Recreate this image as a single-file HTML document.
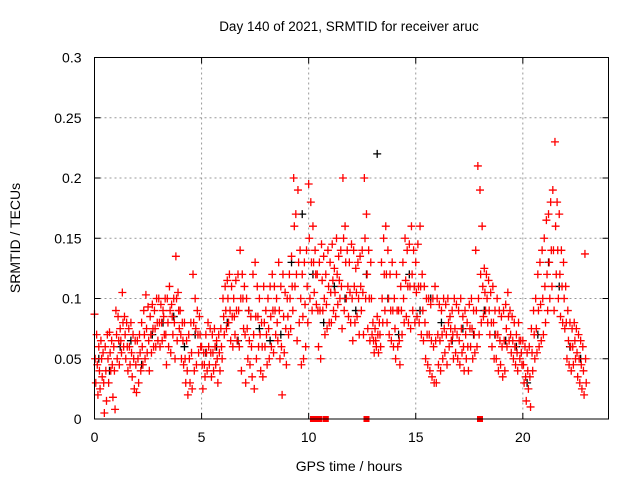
<!DOCTYPE html>
<html><head><meta charset="utf-8"><style>
body{margin:0;background:#fff;}
svg{display:block;font-family:"Liberation Sans",sans-serif;}
</style></head><body>
<svg id="chart" width="640" height="480" viewBox="0 0 640 480">
<text x="349" y="31" font-size="13.5" text-anchor="middle">Day 140 of 2021, SRMTID for receiver aruc</text>
<text transform="translate(20,238) rotate(-90)" font-size="14" text-anchor="middle">SRMTID / TECUs</text>
<text x="349" y="471" font-size="14" text-anchor="middle">GPS time / hours</text>
<g id="grid"></g>
<g id="ticks"></g>
<g id="marks"></g>
<rect x="94.5" y="57.5" width="514" height="361.5" fill="none" stroke="#000" stroke-width="1"/>
</svg>
<script>
const xTicks=[0,5,10,15,20];
const yTicks=[0,0.05,0.1,0.15,0.2,0.25,0.3];
const yTickLabels=["0","0.05","0.1","0.15","0.2","0.25","0.3"];
const redStart=0, redStep=0.1;
const redUpper=[.087,.07,.06,.065,.055,.06,.07,.072,.065,.06,
.09,.085,.075,.105,.085,.08,.075,.08,.07,.065,
.065,.07,.08,.09,.103,.093,.085,.095,.09,.1,
.1,.095,.09,.1,.1,.11,.095,.1,.135,.105,
.09,.08,.08,.065,.07,.08,.12,.1,.09,.085,
.06,.055,.07,.08,.075,.07,.075,.065,.07,.075,
.1,.11,.115,.12,.11,.1,.115,.12,.14,.12,
.11,.1,.09,.085,.12,.13,.11,.1,.08,.11,
.09,.1,.11,.12,.11,.1,.13,.11,.12,.105,
.1,.12,.135,.2,.17,.19,.14,.12,.13,.14,
.195,.18,.16,.14,.12,.13,.145,.135,.12,.14,
.13,.145,.125,.15,.135,.14,.2,.16,.14,.13,
.145,.14,.125,.13,.135,.14,.2,.17,.14,.13,
.08,.075,.085,.08,.13,.15,.16,.14,.12,.13,
.1,.12,.09,.11,.13,.15,.14,.145,.16,.14,
.13,.145,.16,.12,.11,.1,.1,.095,.1,.11,
.1,.095,.09,.1,.095,.1,.085,.09,.1,.095,
.09,.1,.085,.09,.08,.095,.1,.09,.14,.21,
.19,.16,.125,.12,.115,.105,.11,.09,.1,.09,
.085,.09,.095,.105,.09,.085,.08,.07,.08,.065,
.065,.06,.055,.06,.075,.09,.1,.12,.13,.14,
.15,.165,.17,.18,.19,.23,.18,.17,.14,.13,
.11,.09,.08,.075,.08,.075,.07,.065,.06,.137];
const redMid=[.05,.045,.04,.05,.03,.04,.05,.055,.045,.04,
.07,.065,.065,.08,.07,.06,.06,.055,.05,.045,
.05,.055,.06,.07,.075,.065,.07,.075,.075,.08,
.08,.08,.085,.07,.08,.09,.085,.08,.1,.09,
.07,.065,.05,.04,.05,.055,.08,.075,.07,.07,
.045,.045,.055,.06,.055,.055,.06,.05,.055,.06,
.085,.09,.1,.09,.085,.085,.09,.09,.1,.1,
.07,.075,.065,.06,.07,.085,.085,.07,.06,.08,
.07,.075,.085,.09,.09,.08,.09,.06,.085,.075,
.085,.1,.11,.16,.12,.13,.1,.085,.095,.11,
.15,.13,.13,.12,.09,.09,.115,.1,.095,.11,
.105,.115,.105,.12,.115,.11,.15,.13,.11,.105,
.1,.11,.105,.1,.11,.105,.15,.12,.1,.1,
.065,.065,.07,.07,.1,.12,.12,.1,.09,.09,
.075,.09,.065,.09,.1,.115,.11,.11,.12,.11,
.105,.11,.11,.09,.08,.07,.07,.065,.06,.065,
.07,.065,.07,.075,.07,.08,.075,.07,.075,.07,
.065,.075,.06,.07,.06,.075,.075,.07,.09,.1,
.12,.11,.105,.1,.09,.08,.08,.07,.07,.065,
.06,.065,.075,.085,.07,.065,.06,.055,.065,.055,
.045,.035,.04,.035,.055,.07,.075,.09,.095,.1,
.11,.12,.13,.14,.14,.16,.14,.12,.11,.1,
.08,.065,.06,.06,.065,.055,.05,.045,.04,.05];
const redLower=[.03,.02,.025,.035,.005,.015,.03,.04,.018,.008,
.05,.045,.055,.06,.05,.04,.045,.035,.025,.022,
.03,.04,.045,.05,.055,.04,.055,.06,.06,.065,
.06,.065,.07,.045,.06,.055,.07,.05,.065,.075,
.05,.045,.03,.02,.03,.025,.04,.045,.055,.06,
.025,.035,.04,.045,.035,.04,.045,.03,.04,.05,
.07,.075,.08,.065,.06,.07,.065,.06,.04,.075,
.03,.05,.045,.035,.025,.05,.06,.04,.035,.06,
.045,.05,.06,.055,.07,.065,.05,.02,.055,.045,
.07,.075,.09,.11,.065,.08,.045,.05,.06,.08,
.1,.09,.105,.095,.06,.05,.09,.07,.075,.08,
.08,.09,.085,.095,.1,.075,.09,.1,.085,.08,
.065,.08,.085,.07,.09,.07,.1,.075,.065,.07,
.055,.06,.055,.06,.08,.09,.08,.07,.065,.06,
.05,.06,.045,.07,.08,.085,.08,.075,.09,.08,
.085,.08,.07,.065,.05,.045,.04,.035,.03,.03,
.045,.04,.05,.055,.045,.06,.065,.05,.055,.05,
.045,.055,.04,.05,.04,.06,.05,.055,.06,.07,
.08,.085,.09,.08,.07,.06,.05,.05,.04,.045,
.035,.04,.06,.065,.055,.05,.045,.04,.05,.045,
.03,.015,.025,.01,.04,.05,.055,.06,.065,.07,
.08,.09,.1,.11,.09,.12,.1,.085,.08,.075,
.05,.045,.04,.045,.05,.035,.03,.025,.02,.03];
const blackStart=0, blackStep=0.5;
const blackValues=[.05,.04,.06,.065,.045,.07,.08,.085,.06,.07,.055,.06,.08,.065,.09,.075,.065,.07,.13,.17,.12,.08,.11,.1,.09,.12,.22,.1,.07,.12,.09,.1,.08,.065,.075,.07,.09,.07,.065,.06,.03,.07,.13,.11,.06,.05];
const flagTimes=[10.2,10.35,10.5,10.8,12.7,18.0];

const X0=94.5,X1=608.5,Y0=419,Y1=57.5,XMAX=24,YMAX=0.3;
const xs=v=>X0+(v/XMAX)*(X1-X0);
const ys=v=>Y0-(v/YMAX)*(Y0-Y1);
const NS="http://www.w3.org/2000/svg";
const grid=document.getElementById('grid'),ticks=document.getElementById('ticks'),marks=document.getElementById('marks');
function mk(tag,at,parent){const e=document.createElementNS(NS,tag);for(const k in at)e.setAttribute(k,at[k]);parent.appendChild(e);return e;}
xTicks.forEach(t=>{
  const x=xs(t);
  if(t>0){const g=mk('line',{x1:x,x2:x,y1:Y1,y2:Y0,stroke:'#999','stroke-dasharray':'2,3'},grid);
  
  }
  const l=mk('text',{x:x,y:Y0+23,'font-size':14,'text-anchor':'middle'},ticks);l.textContent=String(t);
  
  
  mk('line',{x1:x,x2:x,y1:Y0,y2:Y0-6,stroke:'#000'},ticks);
  mk('line',{x1:x,x2:x,y1:Y1,y2:Y1+6,stroke:'#000'},ticks);
});
yTicks.forEach((t,i)=>{
  const y=ys(t);
  if(t>0&&t<YMAX){const g=mk('line',{x1:X0,x2:X1,y1:y,y2:y,stroke:'#999','stroke-dasharray':'2,3'},grid);
  
  }
  const l=mk('text',{x:X0-13,y:y+5,'font-size':14,'text-anchor':'end'},ticks);l.textContent=yTickLabels[i];
  
  
  mk('line',{x1:X0,x2:X0+6,y1:y,y2:y,stroke:'#000'},ticks);
  mk('line',{x1:X1,x2:X1-6,y1:y,y2:y,stroke:'#000'},ticks);
});
function plus(t,v,color,name){
  const x=xs(t),y=ys(v);
  const p=mk('path',{d:`M${x-4},${y}H${x+4}M${x},${y-4}V${y+4}`,stroke:color,'stroke-width':1.3,fill:'none'},marks);
  
  
}
blackValues.forEach((v,i)=>plus(blackStart+i*blackStep+0.2,v,'#000','black-point'));
redUpper.forEach((v,i)=>plus(redStart+i*redStep,v,'#f00','red-point'));
redMid.forEach((v,i)=>plus(redStart+i*redStep+0.03,v,'#f00','red-point'));
redLower.forEach((v,i)=>plus(redStart+i*redStep+0.06,v,'#f00','red-point'));
flagTimes.forEach(t=>{
  const r=mk('rect',{x:xs(t)-3,y:Y0-3,width:6,height:6,fill:'#f00'},marks);
  
  
});
</script>
</body></html>
